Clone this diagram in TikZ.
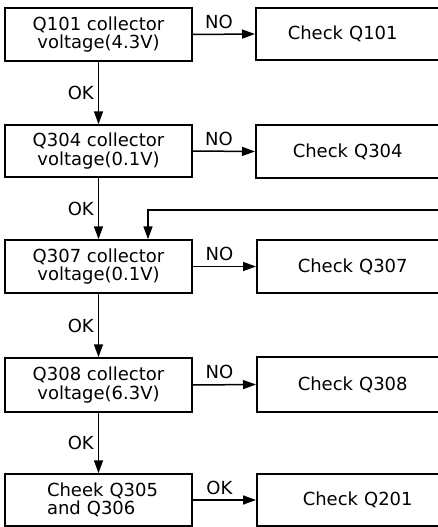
\documentclass[tikz,border=0pt]{standalone}
\usepackage{fontspec}
\setmainfont{DejaVu Sans}
\usetikzlibrary{arrows.meta}
\begin{document}
\begin{tikzpicture}[x=1pt,y=-1pt,
  txt/.style={font=\fontsize{18}{18.5}\selectfont},
  lbox/.style={txt, draw, line width=1.5pt, minimum width=187pt, inner sep=0pt},
  rbox/.style={txt, draw, line width=1.5pt, anchor=west, text width=150pt, align=left, inner ysep=0pt},
  arr/.style={line width=1.5pt, -{Triangle[length=13pt,width=9pt]}},
  lbl/.style={txt, inner sep=2pt}]
\clip (0,0) rectangle (438,527);
% left boxes
\node[lbox, align=center, minimum height=53pt] (b1) at (98.5,34.5) {Q101 collector\\voltage(4.3V)};
\node[lbox, align=center, minimum height=52pt] (b2) at (98.5,151) {Q304 collector\\voltage(0.1V)};
\node[lbox, align=center, minimum height=53pt] (b3) at (98.5,266.5) {Q307 collector\\voltage(0.1V)};
\node[lbox, align=center, minimum height=54pt] (b4) at (98.5,385) {Q308 collector\\voltage(6.3V)};
\node[lbox, align=left, minimum height=52pt, text width=103pt, inner xsep=42pt] (b5) at (98.5,500) {\mbox{Cheek Q305}\\\mbox{and Q306}};
% right boxes
\node[rbox, inner xsep=32pt, minimum height=52pt] (r1) at (255,34) {Check Q101};
\node[rbox, inner xsep=37pt, minimum height=53pt] (r2) at (255,151.5) {Check Q304};
\node[rbox, inner xsep=41pt, minimum height=53pt] (r3) at (256,266.5) {Check Q307};
\node[rbox, inner xsep=41pt, minimum height=55pt] (r4) at (256,384.5) {Check Q308};
\node[rbox, inner xsep=46pt, minimum height=52pt] (r5) at (256,500) {Check Q201};
% horizontal arrows
\draw[arr] (b1.east) -- node[lbl, above, xshift=-5pt, yshift=3pt] {NO} (r1.west);
\draw[arr] (b2.east) -- node[lbl, above, xshift=-5pt, yshift=3pt] {NO} (r2.west);
\draw[arr] (b3.east) -- node[lbl, above, xshift=-5pt, yshift=3pt] {NO} (r3.west);
\draw[arr] (b4.east) -- node[lbl, above, xshift=-5pt, yshift=3pt] {NO} (r4.west);
\draw[arr] (b5.east) -- node[lbl, above, xshift=-5pt, yshift=3pt] {OK} (r5.west);
% vertical arrows
\draw[arr] (b1.south) -- node[lbl, left, xshift=-2pt] {OK} (b2.north);
\draw[arr] (b2.south) -- node[lbl, left, xshift=-2pt] {OK} (b3.north);
\draw[arr] (b3.south) -- node[lbl, left, xshift=-2pt] {OK} (b4.north);
\draw[arr] (b4.south) -- node[lbl, left, xshift=-2pt] {OK} (b5.north);
% loop back
\coordinate (lp) at (440,210);
\draw[arr] (lp) -| ([xshift=49.5pt]b3.north);
\end{tikzpicture}
\end{document}
